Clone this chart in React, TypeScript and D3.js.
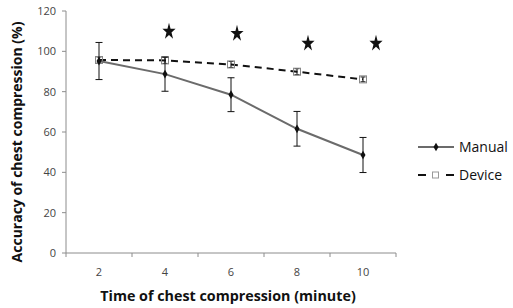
import React from "react";
import * as d3 from "d3";

const categories = ["2", "4", "6", "8", "10"];
const manualMean = [95.2, 88.7, 78.5, 61.6, 48.6];
const manualErr = [9.2, 8.5, 8.4, 8.6, 8.7];
const deviceMean = [95.7, 95.5, 93.5, 89.9, 86.1];
const deviceErr = [1.5, 1.5, 1.5, 1.5, 1.2];
const yTicks = [0, 20, 40, 60, 80, 100, 120];
const starCats = ["4", "6", "8", "10"];
const starY = [109.8, 108.8, 103.9, 103.9];
const starShift = [4, 6, 11, 13];

const W = 513;
const H = 308;
const left = 66;
const right = 396;
const top = 11;
const bottom = 253;

export default function App() {
  const x = d3.scaleBand<string>().domain(categories).range([left, right]);
  const y = d3.scaleLinear().domain([0, 120]).range([bottom, top]);
  const cx = (c: string) => (x(c) as number) + x.bandwidth() / 2;
  const line = d3
    .line<number>()
    .x((_, i) => cx(categories[i]))
    .y((d) => y(d));
  const star = d3.symbol(d3.symbolStar, 74)() as string;
  const diamond = d3.symbol(d3.symbolDiamond, 22)() as string;
  const font = "'Open Sans', sans-serif";
  const axisColor = "#8c8c8c";
  return (
    <svg width={W} height={H} style={{ position: "absolute", left: 0, top: 0 }}>
      <rect width={W} height={H} fill="#fff" />
      {/* axes */}
      <line x1={left} x2={left} y1={top} y2={bottom} stroke={axisColor} />
      <line x1={left} x2={right} y1={bottom} y2={bottom} stroke={axisColor} />
      {yTicks.map((t) => (
        <g key={t}>
          <line x1={left - 4} x2={left} y1={y(t)} y2={y(t)} stroke={axisColor} />
          <text x={left - 10} y={y(t) + 4} textAnchor="end" fontSize={11} fill="#444" fontFamily={font}>
            {t}
          </text>
        </g>
      ))}
      {categories.map((c, i) => (
        <g key={c}>
          <line x1={x(c) as number} x2={x(c) as number} y1={bottom} y2={bottom + 4} stroke={axisColor} />
          {i === categories.length - 1 && (
            <line x1={right} x2={right} y1={bottom} y2={bottom + 4} stroke={axisColor} />
          )}
          <text x={cx(c)} y={bottom + 23} textAnchor="middle" fontSize={11} fill="#444" fontFamily={font}>
            {c}
          </text>
        </g>
      ))}
      {/* device series */}
      <path d={line(deviceMean) as string} fill="none" stroke="#111" strokeWidth={2} strokeDasharray="7,5" />
      {deviceMean.map((v, i) => {
        const px = cx(categories[i]);
        return (
          <g key={"d" + i}>
            <line x1={px} x2={px} y1={y(v + deviceErr[i])} y2={y(v - deviceErr[i])} stroke="#111" />
            <line x1={px - 2.5} x2={px + 2.5} y1={y(v + deviceErr[i])} y2={y(v + deviceErr[i])} stroke="#111" />
            <line x1={px - 2.5} x2={px + 2.5} y1={y(v - deviceErr[i])} y2={y(v - deviceErr[i])} stroke="#111" />
            <rect x={px - 3.5} y={y(v) - 3.5} width={7} height={7} fill="none" stroke="#888" strokeWidth={1} />
          </g>
        );
      })}
      {/* manual series */}
      <path d={line(manualMean) as string} fill="none" stroke="#6b6b6b" strokeWidth={2} />
      {manualMean.map((v, i) => {
        const px = cx(categories[i]);
        return (
          <g key={"m" + i}>
            <line x1={px} x2={px} y1={y(v + manualErr[i])} y2={y(v - manualErr[i])} stroke="#111" />
            <line x1={px - 3.5} x2={px + 3.5} y1={y(v + manualErr[i])} y2={y(v + manualErr[i])} stroke="#111" />
            <line x1={px - 3.5} x2={px + 3.5} y1={y(v - manualErr[i])} y2={y(v - manualErr[i])} stroke="#111" />
            <path d={diamond} transform={`translate(${px},${y(v)})`} fill="#111" />
          </g>
        );
      })}
      {/* stars */}
      {starCats.map((c, i) => (
        <path
          key={"s" + c}
          d={star}
          transform={`translate(${cx(c) + starShift[i]},${y(starY[i])}) scale(0.85,1.08)`}
          fill="#111"
        />
      ))}
      {/* legend */}
      <line x1={418} x2={454} y1={147} y2={147} stroke="#6b6b6b" strokeWidth={2} />
      <path d={diamond} transform="translate(436,147)" fill="#111" />
      <text x={459} y={152} fontSize={14} fill="#111" fontFamily={font}>Manual</text>
      <line x1={418} x2={454} y1={175} y2={175} stroke="#111" strokeWidth={2} strokeDasharray="8,20" />
      <rect x={432.5} y={172} width={6} height={6} fill="none" stroke="#999" />
      <text x={459} y={180} fontSize={14} fill="#111" fontFamily={font}>Device</text>
      {/* axis titles */}
      <text x={228} y={301} textAnchor="middle" fontSize={14.3} fontWeight="bold" fill="#111" fontFamily={font}>
        Time of chest compression (minute)
      </text>
      <text
        transform="translate(22,142) rotate(-90)"
        textAnchor="middle"
        fontSize={14}
        fontWeight="bold"
        fill="#111"
        fontFamily={font}
      >
        Accuracy of chest compression (%)
      </text>
    </svg>
  );
}
